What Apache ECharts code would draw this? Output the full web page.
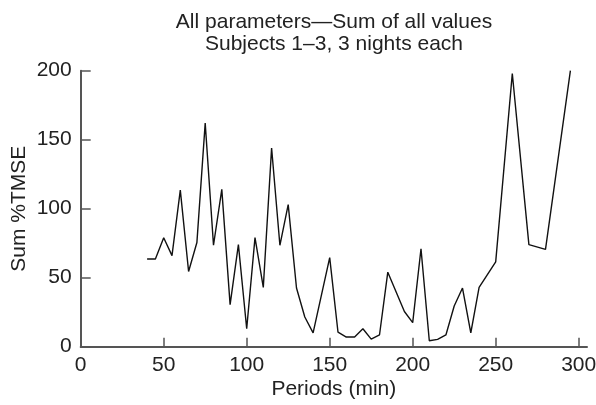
<!DOCTYPE html>
<html>
<head>
<meta charset="utf-8">
<script src="https://cdn.jsdelivr.net/npm/echarts@6/dist/echarts.min.js"></script>
<style>
html,body{margin:0;padding:0;background:#fff;}
#chart{width:596px;height:405px;}
</style>
</head>
<body>
<div id="chart"></div>
<script>
const titleLines = ['All parameters\u2014Sum of all values', 'Subjects 1\u20133, 3 nights each'];
const xName = 'Periods (min)';
const yName = 'Sum %TMSE';
const periods = [40,45,50,55,60,65,70,75,80,85,90,95,100,105,110,115,120,125,130,135,140,150,155,160,165,170,175,180,185,195,200,205,210,215,220,225,230,235,240,250,260,270,280,295];
const sumValues = [63.5,63.5,79,66,113.5,54.5,75.5,162,73.5,114,30.5,74,13,79,43,144,73.5,103,42.5,21.5,10,64.5,10.5,7,7,13,5.5,8.5,54,25.5,17.5,71,4.3,5.3,8.5,29.5,42.5,10,43,61.5,198,74,70.5,200];
const xTicks = [0,50,100,150,200,250,300];
const yTicks = [0,50,100,150,200];

const font = 'Liberation Sans, Arial, Helvetica, sans-serif';
const axisColor = '#555';
const chart = echarts.init(document.getElementById('chart'), null, {renderer:'canvas'});
chart.setOption({
  backgroundColor:'#fff',
  animation:false,
  title:{
    text: titleLines.join('\n'),
    left: 329, top: 6,
    textAlign:'center',
    textStyle:{fontFamily:font,fontSize:21,fontWeight:'normal',color:'#222',lineHeight:22}
  },
  grid:{left:80.7,right:9,top:70.7,bottom:58.3,containLabel:false,outerBoundsMode:'none'},
  xAxis:{
    type:'value', min:0, max:305,
    name:xName, nameLocation:'middle', nameGap:32, nameMoveOverlap:false,
    nameTextStyle:{fontFamily:font,fontSize:21,color:'#222'},
    axisLine:{show:true,onZero:false,lineStyle:{color:axisColor,width:2}},
    axisTick:{show:true,inside:true,length:9,customValues:xTicks,lineStyle:{color:axisColor,width:1.5}},
    axisLabel:{customValues:xTicks,fontFamily:font,fontSize:21,color:'#222',margin:8},
    splitLine:{show:false}
  },
  yAxis:{
    type:'value', min:0, max:200, interval:50,
    name:yName, nameLocation:'middle', nameGap:51, nameMoveOverlap:false,
    nameTextStyle:{fontFamily:font,fontSize:21,color:'#222'},
    axisLine:{show:true,lineStyle:{color:axisColor,width:2}},
    axisTick:{show:true,inside:true,length:10,lineStyle:{color:axisColor,width:1.5}},
    axisLabel:{fontFamily:font,fontSize:21,color:'#222',margin:9},
    splitLine:{show:false}
  },
  series:[{
    type:'line',
    data: periods.map((p,i)=>[p,sumValues[i]]),
    showSymbol:false, symbol:'none',
    lineStyle:{color:'#111',width:1.4},
    silent:true
  }]
});
</script>
</body>
</html>
